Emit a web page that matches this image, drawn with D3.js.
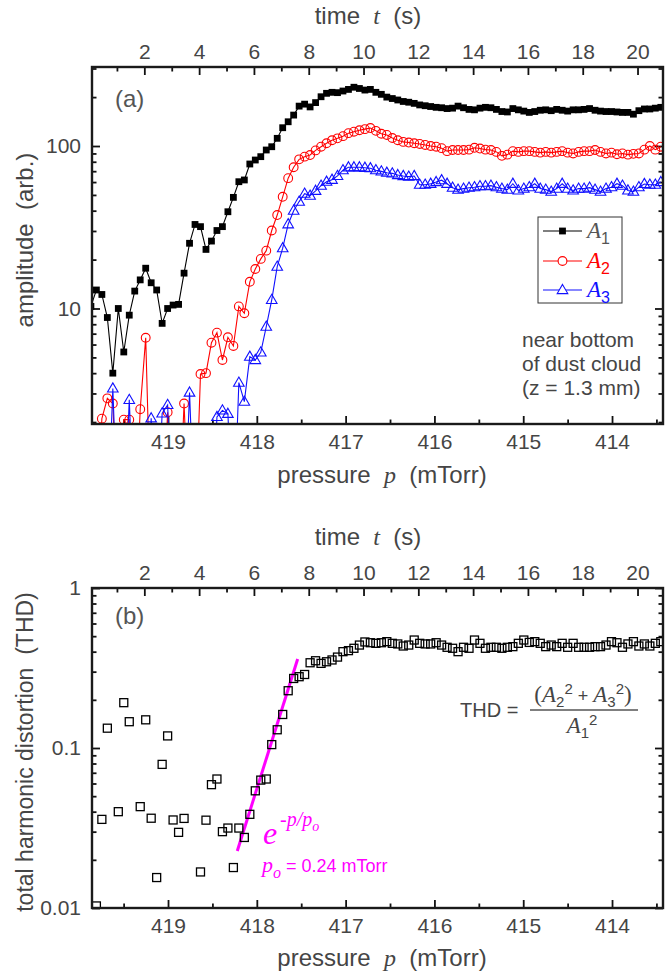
<!DOCTYPE html>
<html><head><meta charset="utf-8">
<script src="https://cdn.jsdelivr.net/npm/d3@7"></script>
<style>body{margin:0;background:#fff}</style>
</head><body>
<svg id="chart" width="668" height="971"></svg>
<script>
// ---------------- data ----------------
const time = [0.05,0.25,0.45,0.65,0.85,1.05,1.25,1.45,1.65,1.85,2.05,2.25,2.45,2.65,2.85,3.05,3.25,3.45,3.65,3.85,4.05,4.25,4.45,4.65,4.85,5.05,5.25,5.45,5.65,5.85,6.05,6.25,6.45,6.65,6.85,7.05,7.25,7.45,7.65,7.85,8.05,8.25,8.45,8.65,8.85,9.05,9.25,9.45,9.65,9.85,10.05,10.25,10.45,10.65,10.85,11.05,11.25,11.45,11.65,11.85,12.05,12.25,12.45,12.65,12.85,13.05,13.25,13.45,13.65,13.85,14.05,14.25,14.45,14.65,14.85,15.05,15.25,15.45,15.65,15.85,16.05,16.25,16.45,16.65,16.85,17.05,17.25,17.45,17.65,17.85,18.05,18.25,18.45,18.65,18.85,19.05,19.25,19.45,19.65,19.85,20.05,20.25,20.45,20.65,20.85];

const A1 = [10.3,13,12.2,8.8,4.0,10,5.4,9.1,12.8,15,
 17.7,14.4,13,8.1,10,10.5,10.6,16.5,25.2,32.9,
 31.9,23.1,26.0,30.2,31.9,39.4,48.3,60.3,61.8,77.5,
 82,86,94.5,99,111.5,129.6,141,155,176,181,
 174,185,201,211,214,213,218,223,230,226,
 221,223,214,208,200,196,192,188,186,183,
 179,177,175,173,172,170,171,176,172,168,
 167,171,173,172,168,163,162,170,167,164,
 161,163,166,167,165,168,166,164,167,167,
 168,170,166,164,163,163,162,161,161,157,
 165,169,169,171,173];

const A2 = [0.4,0.4,2.1,2.8,2.6,0.4,2.07,2.07,0.4,2.4,
 6.6,0.4,0.4,0.4,2.3,0.4,0.4,2.6,0.4,0.4,
 3.95,4.0,6.16,7.1,4.82,6.65,5.88,10.3,9.35,14.6,
 17.5,20.2,22.7,30.2,37.6,48.7,63.4,74,82.8,86,
 88,94,99,104,108.5,111.5,115,120,122.5,125,
 127,129,124,119,117,112,108.5,106,105,104,
 103,101.5,100,99,97,93,94.5,94.5,94.5,95,
 97.5,96.5,95,94.5,92,87,88.5,93,92,93,
 93,92,91,92,91,92,93,91,90,92,
 93,93,94.5,92,90,91,89,90,88.5,89.5,
 90,95,100,95,99];

const A3 = [0.4,0.4,0.4,0.4,3.22,0.4,0.4,2.74,0.4,0.4,
 0.4,2.11,0.4,2.26,2.55,0.4,0.4,0.4,3.04,0.4,
 0.4,0.4,0.4,2.15,2.36,2.25,0.4,3.5,2.67,5.05,
 4.82,5.37,7.73,11.3,18.1,23.5,33,40,45.5,50.9,
 49.5,53,57,60.3,62,65.5,71,74,74,74,
 73.5,73,71,69.8,68.5,67.9,66.3,65.4,64.8,65.4,
 57.8,57.8,58.6,60,61.6,58.6,55.4,53.9,54.7,55.4,
 55.8,56.6,56.6,57,55.8,54.7,53.9,58.6,53.3,54.7,
 55.8,58.6,54.7,53.9,52.4,54.7,58.6,54.7,53.3,54.7,
 54.7,55.4,53.9,52.4,54.7,55.8,58.6,57,53.3,52.4,
 55.8,58.4,57.8,57.8,60];

const THD = [null,0.0103,0.0358,0.133,null,0.04,0.192,0.146,null,0.043,
 0.15,0.0364,0.0155,0.079,0.119,0.0355,0.0297,0.0363,null,null,
 0.0168,0.0354,0.059,0.064,0.03,0.0316,0.0179,0.0316,0.0276,0.0385,
 0.054,0.063,0.064,0.105,0.13,0.162,0.228,0.272,0.279,0.288,
 0.341,0.351,0.338,0.346,0.355,0.37,0.4,0.406,0.42,0.44,
 0.46,0.455,0.451,0.455,0.462,0.451,0.447,0.434,0.44,0.473,
 0.451,0.447,0.447,0.455,0.44,0.426,0.42,0.4,0.426,0.42,
 0.473,0.451,0.42,0.426,0.426,0.42,0.426,0.43,0.451,0.473,
 0.457,0.462,0.451,0.43,0.44,0.43,0.451,0.426,0.451,0.426,
 0.426,0.426,0.43,0.43,0.44,0.462,0.455,0.426,0.447,0.462,
 0.434,0.447,0.434,0.451,0.462];

const fitPressure = [418.22, 417.54];
const fitTHD = [0.0227, 0.36];

const timeTicks = [2,4,6,8,10,12,14,16,18,20];
const timeMinor = [1,3,5,7,9,11,13,15,17,19];
const pressureTicks = [419,418,417,416,415,414];
const pressureMinor = [419.5,418.5,417.5,416.5,415.5,414.5,413.5];
const ampTicks = [10,100];
const thdTicks = [0.01,0.1,1];

// ---------------- layout ----------------
const SANS = "'Liberation Sans', Arial, sans-serif";
const SERIF = "'Liberation Serif', 'Times New Roman', serif";
const TXT = '#454545';
const L = 92, R = 663;
const PA = {top:67, bottom:424};
const PB = {top:588, bottom:908};

const svg = d3.select('#chart');
const xT = d3.scaleLinear().domain([0.09, 20.93]).range([L, R]);
const xP = d3.scaleLinear().domain([419.856, 413.426]).range([L, R]);
const yA = d3.scaleLog().domain([1.946, 306.4]).range([PA.bottom, PA.top]);
const yB = d3.scaleLog().domain([0.01, 1]).range([PB.bottom, PB.top]);

function styleAxis(sel){
  sel.attr('font-size',21).attr('font-family',SANS).attr('color','#111');
  sel.select('.domain').remove();
  sel.selectAll('.tick line').attr('stroke-width',1.8);
  sel.selectAll('.tick text').attr('fill',TXT);
}
const isDecade = v => Math.abs(Math.log10(v) - Math.round(Math.log10(v))) < 1e-9;

function axes(P, yScale, majors, fmt){
  const g = svg.append('g');
  g.append('g').attr('transform',`translate(0,${P.top})`)
    .call(d3.axisTop(xT).tickValues(timeTicks).tickSize(-8).tickPadding(8).tickFormat(d3.format('d'))).call(styleAxis);
  g.append('g').attr('transform',`translate(0,${P.top})`)
    .call(d3.axisTop(xT).tickValues(timeMinor).tickSize(-4.5).tickFormat(()=>'')).call(styleAxis);
  g.append('g').attr('transform',`translate(0,${P.bottom})`)
    .call(d3.axisBottom(xP).tickValues(pressureTicks).tickSize(-8).tickPadding(10.5).tickFormat(d3.format('d'))).call(styleAxis);
  g.append('g').attr('transform',`translate(0,${P.bottom})`)
    .call(d3.axisBottom(xP).tickValues(pressureMinor).tickSize(-4.5).tickFormat(()=>'')).call(styleAxis);
  const minors = yScale.ticks().filter(v => !isDecade(v));
  g.append('g').attr('transform',`translate(${L},0)`)
    .call(d3.axisLeft(yScale).tickValues(majors).tickSize(-8).tickPadding(11).tickFormat(fmt)).call(styleAxis);
  g.append('g').attr('transform',`translate(${L},0)`)
    .call(d3.axisLeft(yScale).tickValues(minors).tickSize(-4.5).tickFormat(()=>'')).call(styleAxis);
  g.append('g').attr('transform',`translate(${R},0)`)
    .call(d3.axisRight(yScale).tickValues(majors).tickSize(-8).tickFormat(()=>'')).call(styleAxis);
  g.append('g').attr('transform',`translate(${R},0)`)
    .call(d3.axisRight(yScale).tickValues(minors).tickSize(-4.5).tickFormat(()=>'')).call(styleAxis);
}

function rich(parent, x, y, parts, opts){
  const t = parent.append('text').attr('x',x).attr('y',y)
    .attr('text-anchor', opts.anchor || 'start').attr('fill', opts.fill || TXT)
    .style('white-space','pre');
  parts.forEach(p => {
    const s = t.append('tspan').text(p.t)
      .attr('font-family', p.serif ? SERIF : SANS)
      .attr('font-size', p.size || opts.size)
      .attr('font-style', p.it ? 'italic' : 'normal');
    if (p.dy) s.attr('dy', p.dy);
    if (p.dx) s.attr('dx', p.dx);
  });
  return t;
}

// clip paths
const defs = svg.append('defs');
defs.append('clipPath').attr('id','clipA').append('rect').attr('x',L).attr('y',PA.top).attr('width',R-L).attr('height',PA.bottom-PA.top);
defs.append('clipPath').attr('id','clipB').append('rect').attr('x',L).attr('y',PB.top).attr('width',R-L).attr('height',PB.bottom-PB.top);

// ---------------- panel (a) ----------------
axes(PA, yA, ampTicks, d3.format('d'));
const dA = svg.append('g').attr('clip-path','url(#clipA)');
const triPath = 'M0,-5.6L5.3,3.6L-5.3,3.6Z';
const series = [
  {vals:A1, color:'#000000', kind:'sq'},
  {vals:A2, color:'#ff0000', kind:'ci'},
  {vals:A3, color:'#1010ff', kind:'tr'}
];
series.forEach(s => {
  const pts = time.map((t,i)=>({t, v:s.vals[i]}));
  const line = d3.line().x(d=>xT(d.t)).y(d=>yA(d.v));
  dA.append('path').attr('d', line(pts)).attr('fill','none').attr('stroke',s.color).attr('stroke-width',1.1);
  const m = dA.append('g');
  pts.forEach(d => {
    const x = xT(d.t), y = yA(d.v);
    if (s.kind==='sq') m.append('rect').attr('x',x-3.4).attr('y',y-3.4).attr('width',6.8).attr('height',6.8).attr('fill','#000');
    else if (s.kind==='ci') m.append('circle').attr('cx',x).attr('cy',y).attr('r',4.4).attr('fill','none').attr('stroke',s.color).attr('stroke-width',1.1);
    else m.append('path').attr('d',triPath).attr('transform',`translate(${x},${y})`).attr('fill','none').attr('stroke',s.color).attr('stroke-width',1.1);
  });
});
svg.append('rect').attr('x',L).attr('y',PA.top).attr('width',R-L).attr('height',PA.bottom-PA.top)
  .attr('fill','none').attr('stroke','#1a1a1a').attr('stroke-width',2.4);

// legend
const lg = svg.append('g');
lg.append('rect').attr('x',538).attr('y',217).attr('width',84).attr('height',86).attr('fill','#fff').attr('stroke','#333').attr('stroke-width',1);
const legItems = [
  {kind:'sq', color:'#000', label:'1', tcol:'#555', y:231},
  {kind:'ci', color:'#ff0000', label:'2', tcol:'#ff0000', y:261},
  {kind:'tr', color:'#1010ff', label:'3', tcol:'#1010ff', y:290}
];
legItems.forEach(it => {
  lg.append('line').attr('x1',543).attr('x2',582).attr('y1',it.y).attr('y2',it.y).attr('stroke',it.color).attr('stroke-width',1.1);
  const cx = 562.5;
  if (it.kind==='sq') lg.append('rect').attr('x',cx-3.4).attr('y',it.y-3.4).attr('width',6.8).attr('height',6.8).attr('fill','#000');
  else if (it.kind==='ci') lg.append('circle').attr('cx',cx).attr('cy',it.y).attr('r',4.4).attr('fill','#fff').attr('stroke',it.color).attr('stroke-width',1.1);
  else lg.append('path').attr('d',triPath).attr('transform',`translate(${cx},${it.y})`).attr('fill','#fff').attr('stroke',it.color).attr('stroke-width',1.1);
  rich(lg, 587, it.y+6.5, [{t:'A', serif:true, it:true, size:23},{t:it.label, size:16, dy:6}], {fill:it.tcol});
});

// panel (a) texts
rich(svg, 115, 107, [{t:'(a)'}], {size:24, fill:'#555'});
['near bottom','of dust cloud','(z = 1.3 mm)'].forEach((s,i)=>{
  rich(svg, 522, 347+24*i, [{t:s}], {size:21});
});
rich(svg, 368, 24, [{t:'time  '},{t:'t',serif:true,it:true},{t:'  (s)'}], {size:24, anchor:'middle'});
rich(svg, 382, 483, [{t:'pressure  '},{t:'p',serif:true,it:true},{t:'  (mTorr)'}], {size:24, anchor:'middle'});
rich(svg, 0, 0, [{t:'amplitude  (arb.)'}], {size:24, anchor:'middle'}).attr('transform','translate(33,240) rotate(-90)');

// ---------------- panel (b) ----------------
axes(PB, yB, thdTicks, d => String(d));
const dB = svg.append('g').attr('clip-path','url(#clipB)');
const fitPts = fitPressure.map((p,i)=>({p, v:fitTHD[i]}));
dB.append('path').attr('d', d3.line().x(d=>xP(d.p)).y(d=>yB(d.v))(fitPts))
  .attr('stroke','#ff00ff').attr('stroke-width',3).attr('fill','none');
time.forEach((t,i)=>{
  const v = THD[i];
  if (v == null) return;
  dB.append('rect').attr('x',xT(t)-4).attr('y',yB(v)-4).attr('width',8).attr('height',8)
    .attr('fill','none').attr('stroke','#000').attr('stroke-width',1.3);
});
svg.append('rect').attr('x',L).attr('y',PB.top).attr('width',R-L).attr('height',PB.bottom-PB.top)
  .attr('fill','none').attr('stroke','#1a1a1a').attr('stroke-width',2.4);

rich(svg, 115, 624, [{t:'(b)'}], {size:24, fill:'#555'});
rich(svg, 368, 545, [{t:'time  '},{t:'t',serif:true,it:true},{t:'  (s)'}], {size:24, anchor:'middle'});
rich(svg, 382, 966, [{t:'pressure  '},{t:'p',serif:true,it:true},{t:'  (mTorr)'}], {size:24, anchor:'middle'});
rich(svg, 0, 0, [{t:'total harmonic distortion  (THD)'}], {size:23, anchor:'middle'}).attr('transform','translate(33,752) rotate(-90)');

// THD formula
rich(svg, 460, 717, [{t:'THD ='}], {size:20});
svg.append('line').attr('x1',530).attr('x2',638).attr('y1',710).attr('y2',710).attr('stroke','#555').attr('stroke-width',1.3);
rich(svg, 583, 702, [
  {t:'(', serif:true, size:23},
  {t:'A', serif:true, it:true, size:23},
  {t:'2', size:15, dy:5},
  {t:'2', size:15, dy:-13},
  {t:' + ', size:18, dy:8},
  {t:'A', serif:true, it:true, size:23},
  {t:'3', size:15, dy:5},
  {t:'2', size:15, dy:-13},
  {t:')', serif:true, size:23, dy:8}
], {anchor:'middle', size:20});
rich(svg, 582, 733, [
  {t:'A', serif:true, it:true, size:23},
  {t:'1', size:15, dy:5},
  {t:'2', size:15, dy:-13}
], {anchor:'middle', size:20});

// fit annotation
rich(svg, 263, 844, [{t:'e', serif:true, it:true, size:32}], {fill:'#ff00ff'});
rich(svg, 280, 826, [{t:'-p/p', serif:true, it:true, size:20},{t:'o', serif:true, it:true, size:14, dy:5}], {fill:'#ff00ff'});
rich(svg, 262, 872, [{t:'p', serif:true, it:true, size:22},{t:'o', serif:true, it:true, size:16, dy:6},{t:' = 0.24 mTorr', size:18, dy:-6}], {fill:'#ff00ff'});
</script>
</body></html>
